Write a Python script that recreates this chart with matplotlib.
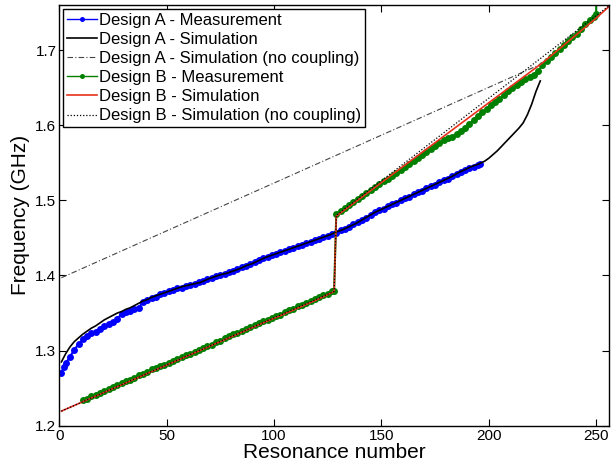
import matplotlib
matplotlib.use("Agg")
import matplotlib.pyplot as plt

# ---------------- data ----------------
# Design A - simulation
nA_sim = [1, 3, 5, 7, 9, 11, 13, 15, 17, 19, 21, 23, 25, 27, 29, 31, 33, 35, 37, 39, 41, 43, 45,
          48, 51, 54, 57, 60, 63, 66, 69, 72, 75, 78, 81, 84, 87, 90, 93, 96, 99, 102, 105, 108,
          111, 114, 117, 120, 123, 126, 129, 132, 135, 138, 141, 144, 147, 150, 153, 156, 159,
          162, 165, 168, 171, 174, 177, 180, 183, 186, 189, 192, 195, 198, 200, 202, 204, 206,
          208, 210, 212, 214, 216, 218, 220, 222, 224]
fA_sim = [1.285, 1.296, 1.305, 1.312, 1.317, 1.322, 1.326, 1.330, 1.333, 1.337, 1.341, 1.344,
          1.347, 1.350, 1.352, 1.355, 1.357, 1.360, 1.363, 1.366, 1.368, 1.371, 1.373, 1.376,
          1.379, 1.382, 1.385, 1.387, 1.389, 1.391, 1.395, 1.398, 1.401, 1.403, 1.406, 1.409,
          1.413, 1.416, 1.420, 1.424, 1.427, 1.430, 1.433, 1.436, 1.439, 1.442, 1.445, 1.448,
          1.451, 1.454, 1.458, 1.461, 1.465, 1.469, 1.474, 1.479, 1.484, 1.488, 1.492, 1.496,
          1.500, 1.504, 1.508, 1.512, 1.516, 1.520, 1.524, 1.528, 1.532, 1.537, 1.541, 1.545,
          1.548, 1.552, 1.556, 1.561, 1.566, 1.572, 1.578, 1.584, 1.590, 1.596, 1.603, 1.614,
          1.628, 1.645, 1.659]

# Design A - measurement
nA_meas = [1, 2, 3, 5, 7, 9, 11, 13, 15, 17, 19, 21, 23, 25, 27, 29, 31, 33, 35, 37, 39, 41,
           43, 45, 47, 49, 51, 53, 55, 57, 59, 61, 63, 65, 67, 69, 71, 73, 75, 77, 79, 81, 83,
           85, 87, 89, 91, 93, 95, 97, 99, 101, 103, 105, 107, 109, 111, 113, 115, 117, 119,
           121, 123, 125, 127, 129, 131, 133, 135, 137, 139, 141, 143, 145, 147, 149, 151, 153,
           155, 157, 159, 161, 163, 165, 167, 169, 171, 173, 175, 177, 179, 181, 183, 185, 187,
           189, 191, 193, 195, 196]
fA_meas = [1.270, 1.278, 1.283, 1.292, 1.301, 1.309, 1.315, 1.320, 1.323, 1.325, 1.329, 1.333,
           1.336, 1.338, 1.342, 1.349, 1.351, 1.353, 1.355, 1.357, 1.365, 1.368, 1.370, 1.372,
           1.375, 1.377, 1.379, 1.381, 1.383, 1.384, 1.386, 1.388, 1.389, 1.391, 1.393, 1.395,
           1.397, 1.399, 1.401, 1.402, 1.404, 1.406, 1.408, 1.411, 1.413, 1.415, 1.418, 1.420,
           1.423, 1.425, 1.427, 1.429, 1.431, 1.433, 1.435, 1.437, 1.439, 1.441, 1.443, 1.445,
           1.447, 1.449, 1.451, 1.453, 1.455, 1.457, 1.460, 1.462, 1.465, 1.468, 1.471, 1.474,
           1.477, 1.481, 1.484, 1.487, 1.489, 1.492, 1.495, 1.497, 1.500, 1.503, 1.505, 1.508,
           1.511, 1.513, 1.516, 1.519, 1.521, 1.524, 1.527, 1.529, 1.532, 1.535, 1.538, 1.540,
           1.543, 1.545, 1.547, 1.548]

# Design A - simulation (no coupling)
nA_nc = [1, 224]
fA_nc = [1.397, 1.681]

# Design B - measurement
nB_meas = [11, 13, 15, 17, 19, 21, 23, 25, 27, 29, 31, 33, 35, 37, 39, 41, 43, 45, 47, 49, 51,
           53, 55, 57, 59, 61, 63, 65, 67, 69, 71, 73, 75, 77, 79, 81, 83, 85, 87, 89, 91, 93,
           95, 97, 99, 101, 103, 105, 107, 109, 111, 113, 115, 117, 119, 121, 123, 125, 127, 128,
           129, 131, 133, 135, 137, 139, 141, 143, 145, 147, 149, 151, 153, 155, 157, 159, 161,
           163, 165, 167, 169, 171, 173, 175, 177, 179, 181, 183, 185, 187, 189, 191, 193, 195,
           197, 199, 201, 203, 205, 207, 209, 211, 213, 215, 217, 219, 221, 223, 225, 227, 229,
           231, 233, 235, 237, 239, 241, 243, 245, 247, 249, 250, 251]
fB_meas = [1.234, 1.236, 1.239, 1.241, 1.244, 1.246, 1.249, 1.252, 1.254, 1.257, 1.259, 1.261,
           1.264, 1.267, 1.269, 1.272, 1.275, 1.277, 1.279, 1.281, 1.284, 1.286, 1.289, 1.291,
           1.294, 1.296, 1.298, 1.301, 1.303, 1.306, 1.308, 1.311, 1.313, 1.317, 1.320, 1.322,
           1.324, 1.326, 1.329, 1.331, 1.334, 1.337, 1.339, 1.341, 1.344, 1.346, 1.348, 1.351,
           1.354, 1.356, 1.359, 1.361, 1.364, 1.366, 1.369, 1.371, 1.374, 1.376, 1.379, 1.380,
           1.482, 1.486, 1.490, 1.494, 1.498, 1.502, 1.506, 1.510, 1.514, 1.518, 1.522, 1.526,
           1.529, 1.533, 1.537, 1.541, 1.545, 1.549, 1.553, 1.557, 1.561, 1.565, 1.569, 1.573,
           1.577, 1.580, 1.583, 1.585, 1.588, 1.592, 1.597, 1.602, 1.607, 1.612, 1.617, 1.622,
           1.627, 1.631, 1.635, 1.640, 1.645, 1.649, 1.653, 1.657, 1.661, 1.664, 1.667, 1.672,
           1.680, 1.686, 1.691, 1.696, 1.701, 1.707, 1.712, 1.717, 1.722, 1.728, 1.735, 1.740,
           1.744, 1.748, 1.950]

# Design B - simulation
nB_sim = [1, 9, 17, 25, 33, 41, 49, 57, 65, 73, 81, 89, 97, 105, 113, 121, 128,
          129, 137, 145, 153, 161, 169, 177, 185, 193, 201, 209, 217, 225, 233, 241, 249, 256]
fB_sim = [1.2195, 1.2295, 1.2395, 1.2495, 1.2595, 1.2695, 1.2795, 1.2895, 1.2995, 1.3095,
          1.3195, 1.3295, 1.3395, 1.3490, 1.3590, 1.3690, 1.3787,
          1.479, 1.496, 1.513, 1.530, 1.547, 1.564, 1.581, 1.598, 1.615, 1.632, 1.649,
          1.666, 1.683, 1.702, 1.721, 1.740, 1.758]

# Design B - simulation (no coupling)
nB_nc = [1, 128, 129, 256]
fB_nc = [1.2195, 1.3787, 1.480, 1.759]

labels = ["Design A - Measurement", "Design A - Simulation",
          "Design A - Simulation (no coupling)", "Design B - Measurement",
          "Design B - Simulation", "Design B - Simulation (no coupling)"]

x_ticks = [0, 50, 100, 150, 200, 250]
y_ticks = [1.2, 1.3, 1.4, 1.5, 1.6, 1.7]

# ---------------- plot ----------------
plt.rcParams['font.family'] = ['Liberation Sans', 'DejaVu Sans']

fig = plt.figure(figsize=(6.11, 4.72), dpi=100)
ax = fig.add_axes([0.097, 0.098, 0.8997, 0.8913])

ax.plot(nA_meas, fA_meas, '-', color='#0000ff', lw=1.5, marker='o', ms=5.0,
        mec='#0000ff', mfc='#0000ff', mew=0, label=labels[0])
ax.plot(nA_sim, fA_sim, '-', color='black', lw=1.2, label=labels[1])
ax.plot(nA_nc, fA_nc, color='#444444', lw=0.8, linestyle=(0, (5, 2, 1, 2)), label=labels[2])
ax.plot(nB_meas, fB_meas, '-', color='#008000', lw=1.5, marker='o', ms=5.0,
        mec='#008000', mfc='#008000', mew=0, label=labels[3])
ax.plot(nB_sim, fB_sim, '-', color='#e8301c', lw=1.2, label=labels[4])
ax.plot(nB_nc, fB_nc, color='black', lw=0.9, linestyle=(0, (1, 1.5)), label=labels[5])

ax.set_xlim(0, 256)
ax.set_ylim(1.2, 1.76)
ax.set_xticks(x_ticks)
ax.set_yticks(y_ticks)
ax.set_yticklabels([f"{v:.1f}" for v in y_ticks])
ax.tick_params(direction='in', top=True, right=True, length=5, width=0.8,
               labelsize=11, pad=2)
for s in ax.spines.values():
    s.set_linewidth(1.0)

ax.set_xlabel("Resonance number", fontsize=15, labelpad=0)
ax.set_ylabel("Frequency (GHz)", fontsize=15, labelpad=4)

leg = ax.legend(loc='upper left', fontsize=12, numpoints=1, handlelength=1.8,
                handletextpad=0.15, labelspacing=0.25, borderpad=0.2,
                borderaxespad=0.25, fancybox=False, framealpha=1, edgecolor='black')
leg.get_frame().set_linewidth(1.0)
for h in leg.legend_handles:
    if h.get_marker() == 'o':
        h.set_markersize(3.6)
        h.set_linewidth(1.0)

fig.savefig("out.png", dpi=100)
